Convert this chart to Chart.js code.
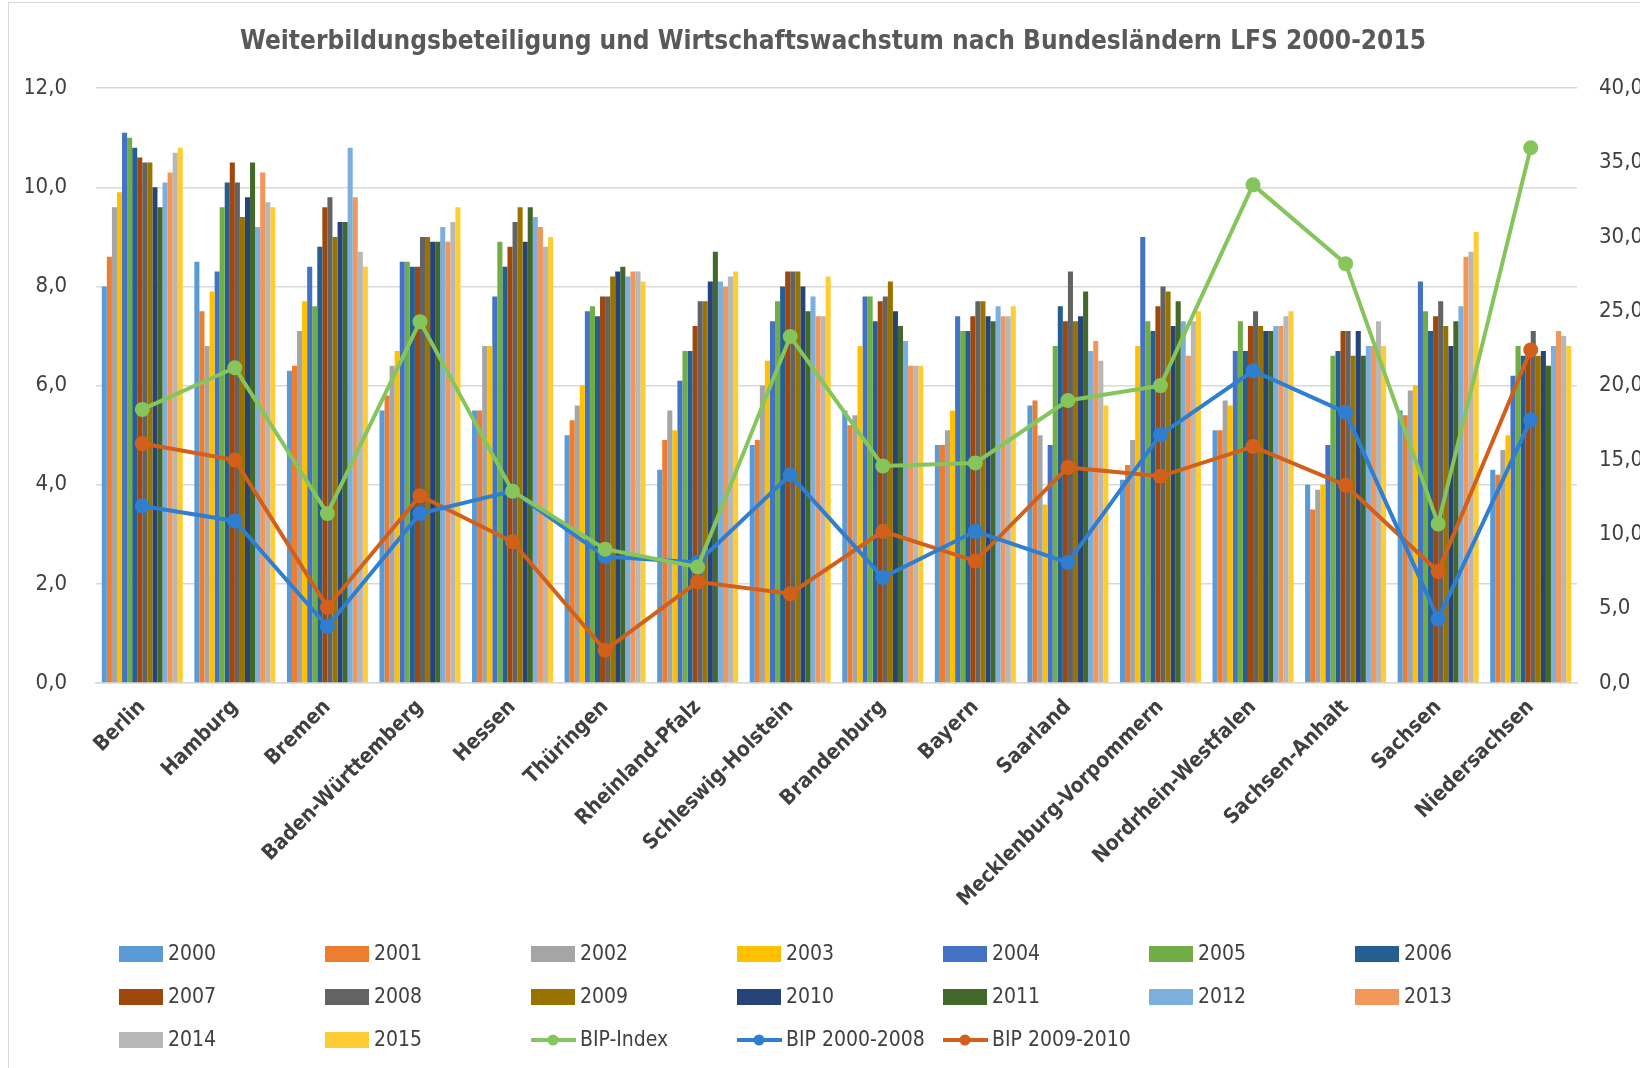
<!DOCTYPE html>
<html lang="de">
<head>
<meta charset="UTF-8">
<title>Weiterbildungsbeteiligung und Wirtschaftswachstum</title>
<script src="https://cdn.jsdelivr.net/npm/chart.js"></script>
<style>
    body { margin: 0; background: #fff; }
    .grafico { position: relative; width: 1640px; height: 1068px; }
</style>
</head>
<body>
<div class="grafico">
    <canvas id="grafico-1"></canvas>
</div>

<script>
    var laender = ['Berlin', 'Hamburg', 'Bremen', 'Baden-Württemberg', 'Hessen', 'Thüringen', 'Rheinland-Pfalz',
        'Schleswig-Holstein', 'Brandenburg', 'Bayern', 'Saarland', 'Mecklenburg-Vorpommern', 'Nordrhein-Westfalen',
        'Sachsen-Anhalt', 'Sachsen', 'Niedersachsen'];

    // Weiterbildungsbeteiligung in % je Jahr (Reihenfolge wie laender)
    var wb2000 = [8.0, 8.5, 6.3, 5.5, 5.5, 5.0, 4.3, 4.8, 5.5, 4.8, 5.6, 4.1, 5.1, 4.0, 5.5, 4.3];
    var wb2001 = [8.6, 7.5, 6.4, 5.8, 5.5, 5.3, 4.9, 4.9, 5.2, 4.8, 5.7, 4.4, 5.1, 3.5, 5.4, 4.2];
    var wb2002 = [9.6, 6.8, 7.1, 6.4, 6.8, 5.6, 5.5, 6.0, 5.4, 5.1, 5.0, 4.9, 5.7, 3.9, 5.9, 4.7];
    var wb2003 = [9.9, 7.9, 7.7, 6.7, 6.8, 6.0, 5.1, 6.5, 6.8, 5.5, 3.6, 6.8, 5.6, 4.0, 6.0, 5.0];
    var wb2004 = [11.1, 8.3, 8.4, 8.5, 7.8, 7.5, 6.1, 7.3, 7.8, 7.4, 4.8, 9.0, 6.7, 4.8, 8.1, 6.2];
    var wb2005 = [11.0, 9.6, 7.6, 8.5, 8.9, 7.6, 6.7, 7.7, 7.8, 7.1, 6.8, 7.3, 7.3, 6.6, 7.5, 6.8];
    var wb2006 = [10.8, 10.1, 8.8, 8.4, 8.4, 7.4, 6.7, 8.0, 7.3, 7.1, 7.6, 7.1, 6.7, 6.7, 7.1, 6.6];
    var wb2007 = [10.6, 10.5, 9.6, 8.4, 8.8, 7.8, 7.2, 8.3, 7.7, 7.4, 7.3, 7.6, 7.2, 7.1, 7.4, 6.7];
    var wb2008 = [10.5, 10.1, 9.8, 9.0, 9.3, 7.8, 7.7, 8.3, 7.8, 7.7, 8.3, 8.0, 7.5, 7.1, 7.7, 7.1];
    var wb2009 = [10.5, 9.4, 9.0, 9.0, 9.6, 8.2, 7.7, 8.3, 8.1, 7.7, 7.3, 7.9, 7.2, 6.6, 7.2, 6.6];
    var wb2010 = [10.0, 9.8, 9.3, 8.9, 8.9, 8.3, 8.1, 8.0, 7.5, 7.4, 7.4, 7.2, 7.1, 7.1, 6.8, 6.7];
    var wb2011 = [9.6, 10.5, 9.3, 8.9, 9.6, 8.4, 8.7, 7.5, 7.2, 7.3, 7.9, 7.7, 7.1, 6.6, 7.3, 6.4];
    var wb2012 = [10.1, 9.2, 10.8, 9.2, 9.4, 8.2, 8.1, 7.8, 6.9, 7.6, 6.7, 7.3, 7.2, 6.8, 7.6, 6.8];
    var wb2013 = [10.3, 10.3, 9.8, 8.9, 9.2, 8.3, 8.0, 7.4, 6.4, 7.4, 6.9, 6.6, 7.2, 6.8, 8.6, 7.1];
    var wb2014 = [10.7, 9.7, 8.7, 9.3, 8.8, 8.3, 8.2, 7.4, 6.4, 7.4, 6.5, 7.3, 7.4, 7.3, 8.7, 7.0];
    var wb2015 = [10.8, 9.6, 8.4, 9.6, 9.0, 8.1, 8.3, 8.2, 6.4, 7.6, 5.6, 7.5, 7.5, 6.8, 9.1, 6.8];

    // Wirtschaftswachstum (rechte Achse)
    var bipIndex = [18.4, 21.2, 11.4, 24.3, 12.9, 9.0, 7.8, 23.3, 14.6, 14.8, 19.0, 20.0, 33.5, 28.2, 10.7, 36.0];
    var bip2000_2008 = [11.9, 10.9, 3.8, 11.4, 12.9, 8.5, 8.1, 14.0, 7.1, 10.2, 8.1, 16.7, 21.0, 18.2, 4.3, 17.7];
    var bip2009_2010 = [16.1, 15.0, 5.1, 12.6, 9.5, 2.2, 6.8, 6.0, 10.2, 8.2, 14.5, 13.9, 15.9, 13.3, 7.5, 22.4];

    var jahre = ['2000', '2001', '2002', '2003', '2004', '2005', '2006', '2007',
        '2008', '2009', '2010', '2011', '2012', '2013', '2014', '2015'];
    var werteJahre = [wb2000, wb2001, wb2002, wb2003, wb2004, wb2005, wb2006, wb2007,
        wb2008, wb2009, wb2010, wb2011, wb2012, wb2013, wb2014, wb2015];
    var farbenJahre = ['#5B9BD5', '#ED7D31', '#A5A5A5', '#FFC000', '#4472C4', '#70AD47', '#255E91', '#9E480E',
        '#636363', '#997300', '#264478', '#43682B', '#7CAFDD', '#F1975A', '#B7B7B7', '#FFCD33'];

    var schrift = "'Liberation Sans Narrow', 'DejaVu Sans Condensed', 'Roboto', sans-serif";

    var datasets = [];
    for (var i = 0; i < jahre.length; i++) {
        datasets.push({
            type: 'bar',
            label: jahre[i],
            data: werteJahre[i],
            backgroundColor: farbenJahre[i],
            yAxisID: 'y',
            order: 2,
            categoryPercentage: 0.875,
            barPercentage: 1.0
        });
    }

    function linie(label, data, farbe) {
        return {
            type: 'line',
            label: label,
            data: data,
            borderColor: farbe,
            backgroundColor: farbe,
            pointBackgroundColor: farbe,
            pointBorderColor: farbe,
            borderWidth: 4,
            pointRadius: 5.5,
            tension: 0,
            yAxisID: 'y1',
            order: 1
        };
    }
    datasets.push(linie('BIP-Index', bipIndex, '#86C55C'));
    datasets.push(linie('BIP 2000-2008', bip2000_2008, '#2F7ED0'));
    datasets.push(linie('BIP 2009-2010', bip2009_2010, '#D2601A'));

    // Rahmen und Legende im Raster (7 Spalten) selbst zeichnen
    var rasterLegende = {
        id: 'rasterLegende',
        beforeDraw: function (chart) {
            var ctx = chart.ctx;
            ctx.save();
            ctx.strokeStyle = '#d9d9d9';
            ctx.lineWidth = 1;
            ctx.strokeRect(8.5, 2.5, 1700, 1100);
            ctx.restore();
        },
        afterDraw: function (chart) {
            var ctx = chart.ctx;
            ctx.save();
            ctx.font = '21px ' + schrift;
            ctx.textBaseline = 'middle';
            ctx.textAlign = 'left';
            chart.data.datasets.forEach(function (ds, idx) {
                var spalte = idx % 7;
                var zeile = Math.floor(idx / 7);
                var x = 119 + spalte * 206;
                var y = 954 + zeile * 43;
                if (ds.type === 'line') {
                    ctx.strokeStyle = ds.borderColor;
                    ctx.lineWidth = 4;
                    ctx.beginPath();
                    ctx.moveTo(x, y);
                    ctx.lineTo(x + 45, y);
                    ctx.stroke();
                    ctx.fillStyle = ds.borderColor;
                    ctx.beginPath();
                    ctx.arc(x + 22, y, 5.5, 0, Math.PI * 2);
                    ctx.fill();
                } else {
                    ctx.fillStyle = ds.backgroundColor;
                    ctx.fillRect(x, y - 8, 44, 16);
                }
                ctx.fillStyle = '#404040';
                ctx.fillText(ds.label, x + 49, y + 1);
            });
            ctx.restore();
        }
    };

    function komma(v) {
        return v.toFixed(1).replace('.', ',');
    }

    var ctx = document.getElementById('grafico-1');
    new Chart(ctx, {
        data: {
            labels: laender,
            datasets: datasets
        },
        options: {
            responsive: true,
            maintainAspectRatio: false,
            animation: false,
            layout: { padding: { left: 26, right: 0, top: 0, bottom: 0 } },
            plugins: {
                legend: { display: false },
                tooltip: { enabled: false },
                title: {
                    display: true,
                    text: 'Weiterbildungsbeteiligung und Wirtschaftswachstum nach Bundesländern LFS 2000-2015',
                    color: '#595959',
                    font: { family: schrift, size: 26, weight: 'bold', lineHeight: 1.2 },
                    padding: { top: 27, bottom: 30 }
                }
            },
            scales: {
                x: {
                    grid: { display: false },
                    border: { color: '#d9d9d9', width: 1.5 },
                    ticks: {
                        minRotation: 45,
                        maxRotation: 45,
                        autoSkip: false,
                        padding: 4,
                        color: '#404040',
                        font: { family: schrift, size: 21, weight: 'bold' }
                    },
                    afterFit: function (scale) { scale.height = 385; }
                },
                y: {
                    position: 'left',
                    min: 0,
                    max: 12,
                    grid: { color: '#d9d9d9', lineWidth: 1.5, drawTicks: false },
                    border: { display: false },
                    ticks: {
                        stepSize: 2,
                        padding: 29,
                        color: '#404040',
                        font: { family: schrift, size: 22 },
                        callback: function (v) { return komma(v); }
                    },
                    afterFit: function (scale) { scale.width = 70; }
                },
                y1: {
                    position: 'right',
                    min: 0,
                    max: 40,
                    grid: { display: false, drawTicks: false },
                    border: { display: false },
                    ticks: {
                        stepSize: 5,
                        padding: 22,
                        color: '#404040',
                        font: { family: schrift, size: 22 },
                        callback: function (v) { return komma(v); }
                    },
                    afterFit: function (scale) { scale.width = 63; }
                }
            }
        },
        plugins: [rasterLegende]
    });
</script>
</body>
</html>
